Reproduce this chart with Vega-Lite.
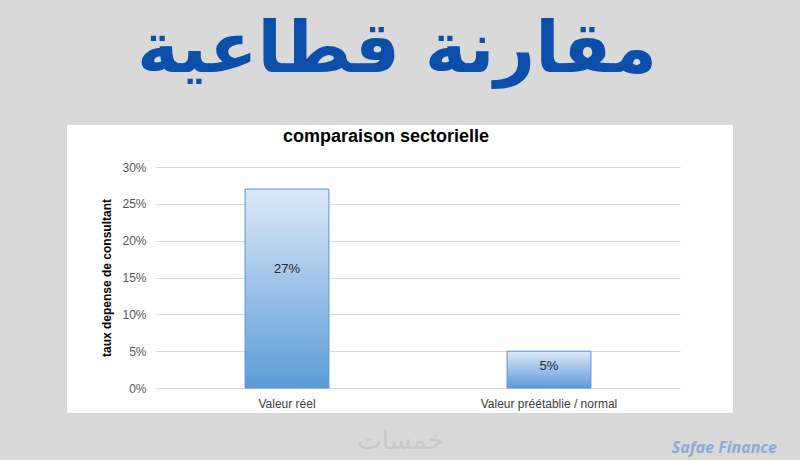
{
  "$schema": "https://vega.github.io/schema/vega-lite/v6.json",
  "background": "#d9d9d9",
  "padding": {"left": 67, "right": 23, "top": 15, "bottom": 4},
  "title": {
    "text": "مقارنة قطاعية",
    "font": "DejaVu Sans",
    "fontSize": 71,
    "fontWeight": "bold",
    "color": "#0b4fab",
    "anchor": "middle",
    "offset": 38,
    "dx": -25
  },
  "vconcat": [
    {
      "title": {
        "text": "Safae Finance",
        "orient": "bottom",
        "anchor": "end",
        "font": "Open Sans",
        "fontSize": 16,
        "fontStyle": "italic",
        "fontWeight": "bold",
        "color": "#8eaad6",
        "offset": -13,
        "dx": 44
      },
      "vconcat": [
        {
          "width": 666,
          "height": 288,
          "title": {
            "text": "comparaison sectorielle",
            "font": "Liberation Sans",
            "fontSize": 18,
            "fontWeight": "bold",
            "color": "#000000",
            "anchor": "middle",
            "frame": "group",
            "offset": -21,
            "dx": -14
          },
          "data": {
            "values": [
              {"category": "Valeur réel", "value": 0.27},
              {"category": "Valeur préétablie / normal", "value": 0.05}
            ]
          },
          "transform": [{"calculate": "datum.value * 0.6", "as": "labelPos"}],
          "layer": [
            {
              "mark": {
                "type": "bar",
                "width": {"band": 0.32},
                "stroke": "#5b93d3",
                "strokeWidth": 1,
                "color": {
                  "gradient": "linear",
                  "x1": 0, "y1": 0, "x2": 0, "y2": 1,
                  "stops": [
                    {"offset": 0, "color": "#dde9f7"},
                    {"offset": 1, "color": "#5b9bd8"}
                  ]
                }
              },
              "encoding": {
                "x": {
                  "field": "category",
                  "type": "nominal",
                  "sort": null,
                  "scale": {"type": "band", "range": [89, 613], "paddingInner": 0, "paddingOuter": 0},
                  "axis": {
                    "orient": "bottom",
                    "offset": -25,
                    "domain": false,
                    "ticks": false,
                    "labelAngle": 0,
                    "labelPadding": 10,
                    "labelFont": "Liberation Sans",
                    "labelFontSize": 12,
                    "labelColor": "#404040",
                    "title": "خمسات",
                    "titleFont": "DejaVu Sans",
                    "titleFontSize": 26,
                    "titleFontWeight": "normal",
                    "titleColor": "#c9c9c9",
                    "titlePadding": 18,
                    "titleX": 333
                  }
                },
                "y": {
                  "field": "value",
                  "type": "quantitative",
                  "scale": {"domain": [0, 0.3], "range": [263, 42], "nice": false, "zero": true},
                  "axis": {
                    "offset": -89,
                    "values": [0, 0.05, 0.1, 0.15, 0.2, 0.25, 0.3],
                    "format": ".0%",
                    "domain": false,
                    "ticks": false,
                    "labelPadding": 10,
                    "labelFont": "Liberation Sans",
                    "labelFontSize": 12,
                    "labelColor": "#595959",
                    "gridColor": "#d9d9d9",
                    "gridWidth": 1,
                    "title": "taux depense de consultant",
                    "titleFont": "Liberation Sans",
                    "titleFontSize": 12,
                    "titleFontWeight": "bold",
                    "titleColor": "#000000",
                    "titlePadding": 8
                  }
                }
              }
            },
            {
              "mark": {"type": "text", "font": "Liberation Sans", "fontSize": 13, "color": "#262626"},
              "encoding": {
                "x": {"field": "category", "type": "nominal", "sort": null},
                "y": {"field": "labelPos", "type": "quantitative"},
                "text": {"field": "value", "type": "quantitative", "format": ".0%"}
              }
            }
          ]
        }
      ]
    }
  ],
  "config": {
    "view": {"fill": "#ffffff", "stroke": null},
    "concat": {"spacing": 0}
  }
}
